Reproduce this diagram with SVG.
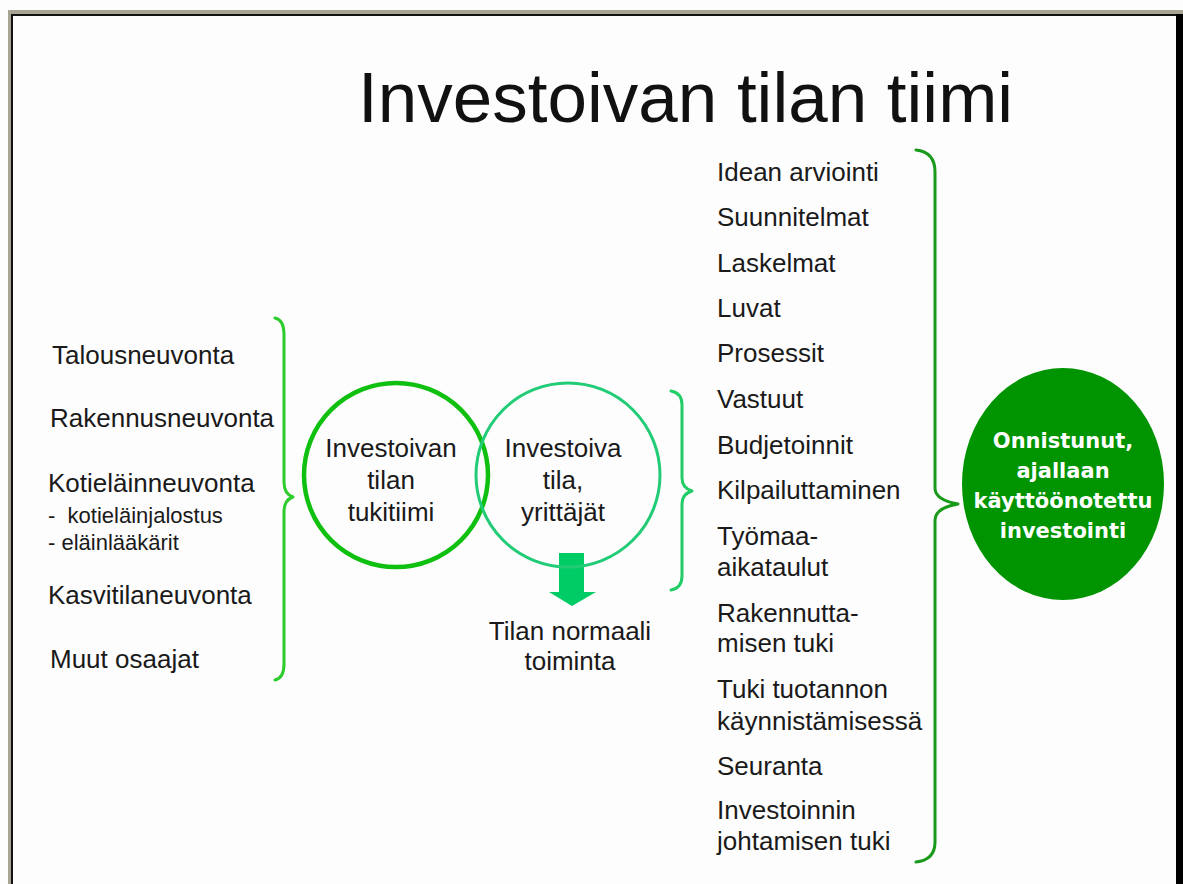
<svg xmlns="http://www.w3.org/2000/svg" width="1183" height="884" viewBox="0 0 1183 884">
  <style>
    .lbl { font-family: "Liberation Sans", Arial, sans-serif; font-size: 26px; fill: #1a1a1a; }
    .sub { font-family: "Liberation Sans", Arial, sans-serif; font-size: 22px; fill: #1a1a1a; }
    .mid { text-anchor: middle; }
    .title { font-family: "Liberation Sans", Arial, sans-serif; font-size: 71px; fill: #111; }
    .goal { font-family: "DejaVu Sans", Verdana, sans-serif; font-size: 21px; font-weight: bold; fill: #fff; text-anchor: middle; }
    .brace { fill: none; stroke-width: 3; stroke-linecap: round; stroke-linejoin: round; }
  </style>

  <!-- window frame -->
  <rect x="0" y="0" width="1183" height="884" fill="#fdfdfd"/>
  <rect x="8" y="10" width="1175" height="4" fill="#a8a494"/>
  <rect x="8" y="10" width="3" height="874" fill="#a8a494"/>
  <rect x="11" y="14" width="1166" height="2" fill="#111"/>
  <rect x="11" y="14" width="2" height="870" fill="#111"/>
  <rect x="1176" y="14" width="7" height="870" fill="#000"/>

  <text class="title" x="358" y="122">Investoivan tilan tiimi</text>

  <!-- advisory services -->
  <g id="advisors">
    <text class="lbl" x="52" y="364">Talousneuvonta</text>
    <text class="lbl" x="50" y="427">Rakennusneuvonta</text>
    <text class="lbl" x="48" y="492">Kotieläinneuvonta</text>
    <text class="sub" x="48" y="523" xml:space="preserve">-  kotieläinjalostus</text>
    <text class="sub" x="48" y="550">- eläinlääkärit</text>
    <text class="lbl" x="48" y="604">Kasvitilaneuvonta</text>
    <text class="lbl" x="50" y="668">Muut osaajat</text>
  </g>

  <!-- connectors: braces and arrow -->
  <g id="connectors">
    <path class="brace" stroke="#2ccc2c" d="M275,318 Q284,320 284,334 L284,482 Q284,494 293,497 Q284,500 284,512 L284,664 Q284,678 275,680"/>
    <path class="brace" stroke="#22cc66" d="M671,391 Q682,393 682,405 L682,478 Q682,488 692,491 Q682,494 682,504 L682,576 Q682,588 671,590"/>
    <path class="brace" stroke="#1a9a1a" d="M916,150 Q935,152 935,172 L935,488 Q935,500 958,504 Q935,508 935,520 L935,842 Q935,860 916,862"/>
    <polygon fill="#00cc66" points="559,553 584,553 584,592 596,592 572,606 549,592 559,592"/>
  </g>

  <g id="support-team">
    <circle cx="396" cy="475" r="92" fill="none" stroke="#10c010" stroke-width="4.5"/>
    <text class="lbl mid" x="391" y="457">Investoivan</text>
    <text class="lbl mid" x="391" y="489">tilan</text>
    <text class="lbl mid" x="391" y="521">tukitiimi</text>
  </g>

  <g id="farm">
    <circle cx="568" cy="475" r="92" fill="none" stroke="#22cc77" stroke-width="3"/>
    <text class="lbl mid" x="563" y="457">Investoiva</text>
    <text class="lbl mid" x="563" y="489">tila,</text>
    <text class="lbl mid" x="563" y="521">yrittäjät</text>
  </g>

  <g id="normal-operation">
    <text class="lbl mid" x="570" y="640">Tilan normaali</text>
    <text class="lbl mid" x="570" y="670">toiminta</text>
  </g>

  <!-- investment phases -->
  <g id="phases">
    <text class="lbl" x="717" y="181">Idean arviointi</text>
    <text class="lbl" x="717" y="226">Suunnitelmat</text>
    <text class="lbl" x="717" y="272">Laskelmat</text>
    <text class="lbl" x="717" y="317">Luvat</text>
    <text class="lbl" x="717" y="362">Prosessit</text>
    <text class="lbl" x="717" y="408">Vastuut</text>
    <text class="lbl" x="717" y="454">Budjetoinnit</text>
    <text class="lbl" x="717" y="499">Kilpailuttaminen</text>
    <text class="lbl" x="717" y="545">Työmaa-</text>
    <text class="lbl" x="717" y="576">aikataulut</text>
    <text class="lbl" x="717" y="622">Rakennutta-</text>
    <text class="lbl" x="717" y="652">misen tuki</text>
    <text class="lbl" x="717" y="698">Tuki tuotannon</text>
    <text class="lbl" x="717" y="730">käynnistämisessä</text>
    <text class="lbl" x="717" y="775">Seuranta</text>
    <text class="lbl" x="717" y="819">Investoinnin</text>
    <text class="lbl" x="717" y="850">johtamisen tuki</text>
  </g>

  <g id="goal">
    <ellipse cx="1063" cy="484" rx="101" ry="116" fill="#009400"/>
    <text class="goal" x="1063" y="448">Onnistunut,</text>
    <text class="goal" x="1063" y="478">ajallaan</text>
    <text class="goal" x="1063" y="508">käyttöönotettu</text>
    <text class="goal" x="1063" y="538">investointi</text>
  </g>
</svg>
